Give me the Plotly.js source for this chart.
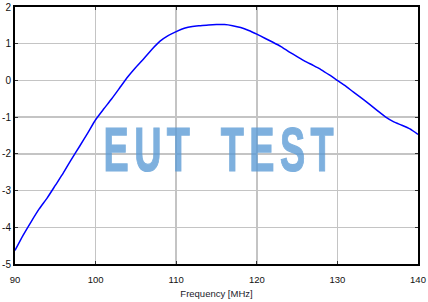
<!DOCTYPE html>
<html>
<head>
<meta charset="utf-8">
<script src="https://cdn.plot.ly/plotly-3.0.1.min.js"></script>
<style>html,body{margin:0;padding:0;background:#fff;}#chart{width:428px;height:302px;}</style>
</head>
<body>
<div id="chart"></div>
<script>
const freqMHz = [90,91,92,93,94,95,96,97,98,99,100,101,102,103,104,105,106,107,108,109,110,111,112,113,114,115,116,117,118,119,120,121,122,123,124,125,126,127,128,129,130,131,132,133,134,135,136,137,138,139,140];
const levelValues = [-4.63,-4.22,-3.85,-3.5,-3.2,-2.86,-2.52,-2.15,-1.8,-1.44,-1.07,-0.78,-0.5,-0.2,0.1,0.36,0.6,0.85,1.07,1.22,1.33,1.42,1.47,1.49,1.51,1.52,1.52,1.49,1.44,1.36,1.26,1.15,1.04,0.92,0.78,0.65,0.52,0.41,0.29,0.15,0.0,-0.15,-0.32,-0.48,-0.65,-0.83,-1.0,-1.13,-1.22,-1.32,-1.47];
const xTickVals = [90,100,110,120,130,140];
const yTickVals = [-5,-4,-3,-2,-1,0,1,2];
const xTitleText = 'Frequency [MHz]';
const watermarkText = 'EUT TEST';

const trace = {
  x: freqMHz, y: levelValues, type: 'scatter', mode: 'lines',
  line: {color: '#0000ff', width: 1.5, shape: 'spline', smoothing: 0.5},
  hoverinfo: 'skip'
};
const axisCommon = {
  showgrid: true, gridcolor: '#c4c4c4', gridwidth: 1.5,
  showline: true, linecolor: '#000', linewidth: 2, mirror: 'ticks',
  ticks: 'inside', ticklen: 3, tickwidth: 1, tickcolor: '#333',
  zeroline: false, fixedrange: true,
  tickfont: {family: 'Liberation Sans, Arial, sans-serif', size: 10, color: '#111'}
};
const layout = {
  width: 428, height: 302,
  margin: {l: 15, r: 10, t: 7, b: 38},
  paper_bgcolor: '#fff', plot_bgcolor: '#fff',
  showlegend: false,
  xaxis: Object.assign({}, axisCommon, {
    range: [90, 140], tickvals: xTickVals, ticktext: xTickVals.map(String),
    ticklabelstandoff: 6,
    tickfont: {family: 'Liberation Sans, Arial, sans-serif', size: 9.5, color: '#111'},
    title: {text: xTitleText, standoff: 6, font: {family: 'Liberation Sans, Arial, sans-serif', size: 9.5, color: '#1a1a2a'}}
  }),
  yaxis: Object.assign({}, axisCommon, {
    range: [-5, 2], tickvals: yTickVals, ticktext: yTickVals.map(String)
  }),
  annotations: [{
    text: watermarkText, xref: 'paper', yref: 'paper', x: 0.513, y: 0.447,
    xanchor: 'center', yanchor: 'middle', showarrow: false,
    font: {family: 'Liberation Sans, Arial, sans-serif', size: 63, color: '#5b9bd5', weight: 'bold'}
  }]
};
Plotly.newPlot('chart', [trace], layout, {displayModeBar: false, staticPlot: true}).then(function(gd){
  const t = gd.querySelector('.annotation-text');
  if (t) {
    t.style.letterSpacing = '9px';
    t.style.wordSpacing = '16px';
    t.setAttribute('stroke', '#5b9bd5');
    t.setAttribute('stroke-width', '1.2');
    t.setAttribute('opacity', '0.78');
    const b = t.getBBox();
    const cx = b.x + b.width / 2;
    const prev = t.getAttribute('transform') || '';
    t.setAttribute('transform', prev + ' translate(' + cx + ',0) scale(0.6,1) translate(' + (-cx) + ',0)');
  }
});
</script>
</body>
</html>
